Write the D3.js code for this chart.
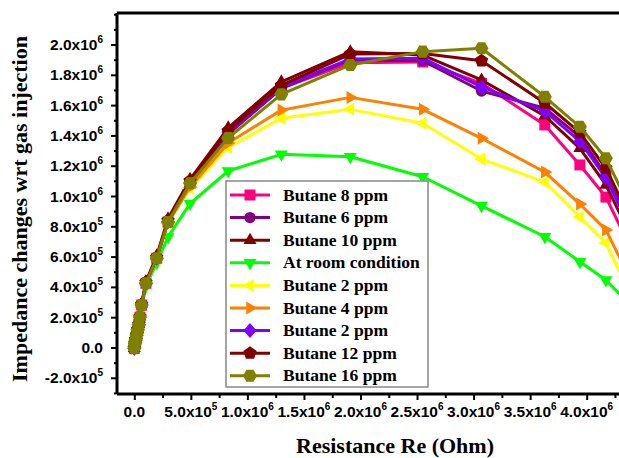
<!DOCTYPE html>
<html>
<head>
<meta charset="utf-8">
<script src="https://cdn.jsdelivr.net/npm/d3@7"></script>
<style>
  body { margin: 0; background: #fff; }
  svg { display: block; }
</style>
</head>
<body>
<svg id="chart"></svg>
<script>
// resistance values shared by all curves (Ohm)
const resistance = [0, 5e3, 1.2e4, 2e4, 3e4, 4e4, 5e4, 6.5e4, 1.03e5, 1.98e5, 2.98e5, 4.93e5,
                    8.3e5, 1.3e6, 1.91e6, 2.55e6, 3.07e6, 3.63e6, 3.94e6, 4.17e6, 4.4e6];

const butane8  = [-5e3, 2.5e4, 5e4, 8e4, 1.15e5, 1.5e5, 2.0e5, 2.8e5, 4.24e5, 5.89e5, 8.28e5, 1.084e6,
                  1.41e6, 1.71e6, 1.88e6, 1.885e6, 1.744e6, 1.469e6, 1.205e6, 9.93e5, 6.4e5];
const butane6  = [-5e3, 2.5e4, 5e4, 8e4, 1.15e5, 1.5e5, 2.0e5, 2.8e5, 4.24e5, 5.89e5, 8.28e5, 1.084e6,
                  1.41e6, 1.71e6, 1.90e6, 1.893e6, 1.693e6, 1.58e6, 1.39e6, 1.14e6, 7.9e5];
const butane10 = [-5e3, 2.6e4, 5.2e4, 8.3e4, 1.19e5, 1.55e5, 2.05e5, 2.88e5, 4.35e5, 6.05e5, 8.5e5, 1.11e6,
                  1.45e6, 1.754e6, 1.953e6, 1.93e6, 1.766e6, 1.528e6, 1.315e6, 1.073e6, 7.2e5];
const roomCond = [-5e3, 2.4e4, 4.8e4, 7.6e4, 1.1e5, 1.45e5, 1.9e5, 2.7e5, 4.05e5, 5.6e5, 7.3e5, 9.5e5,
                  1.165e6, 1.275e6, 1.259e6, 1.127e6, 9.35e5, 7.31e5, 5.66e5, 4.46e5, 2.7e5];
const butane2a = [-5e3, 2.5e4, 5e4, 8e4, 1.15e5, 1.5e5, 2.0e5, 2.8e5, 4.2e5, 5.85e5, 8.2e5, 1.05e6,
                  1.32e6, 1.513e6, 1.572e6, 1.48e6, 1.244e6, 1.092e6, 8.61e5, 6.9e5, 3.3e5];
const butane4  = [-5e3, 2.5e4, 5e4, 8e4, 1.15e5, 1.5e5, 2.0e5, 2.8e5, 4.22e5, 5.87e5, 8.24e5, 1.06e6,
                  1.35e6, 1.567e6, 1.651e6, 1.572e6, 1.381e6, 1.158e6, 9.47e5, 7.76e5, 4.3e5];
const butane2b = [-5e3, 2.5e4, 5e4, 8e4, 1.15e5, 1.5e5, 2.0e5, 2.8e5, 4.24e5, 5.9e5, 8.3e5, 1.09e6,
                  1.42e6, 1.72e6, 1.905e6, 1.91e6, 1.72e6, 1.56e6, 1.36e6, 1.12e6, 7.6e5];
const butane12 = [-5e3, 2.5e4, 5.1e4, 8.1e4, 1.17e5, 1.52e5, 2.02e5, 2.84e5, 4.3e5, 5.95e5, 8.38e5, 1.1e6,
                  1.43e6, 1.73e6, 1.937e6, 1.94e6, 1.893e6, 1.614e6, 1.418e6, 1.183e6, 8.3e5];
const butane16 = [-5e3, 2.5e4, 5e4, 8e4, 1.15e5, 1.5e5, 2.0e5, 2.8e5, 4.24e5, 5.89e5, 8.28e5, 1.084e6,
                  1.383e6, 1.671e6, 1.865e6, 1.953e6, 1.975e6, 1.655e6, 1.457e6, 1.249e6, 9.0e5];

const seriesNames  = ["Butane 8 ppm", "Butane 6 ppm", "Butane 10 ppm", "At room condition", "Butane 2 ppm",
                      "Butane 4 ppm", "Butane 2 ppm", "Butane 12 ppm", "Butane 16 ppm"];
const seriesValues = [butane8, butane6, butane10, roomCond, butane2a, butane4, butane2b, butane12, butane16];
const seriesColors = ["#ff0080", "#800080", "#800000", "#00ff00", "#ffff00", "#ff8000", "#8000ff", "#800000", "#808000"];
const seriesShapes = ["square", "circle", "up", "down", "left", "right", "diamond", "pentagon", "hexagon"];

const xTicks = [0, 5e5, 1e6, 1.5e6, 2e6, 2.5e6, 3e6, 3.5e6, 4e6];
const yTicks = [-2e5, 0, 2e5, 4e5, 6e5, 8e5, 1e6, 1.2e6, 1.4e6, 1.6e6, 1.8e6, 2e6];

let svgWidth = 619, svgHeight = 458;
let svg = d3.select('#chart').attr("width", svgWidth).attr("height", svgHeight);

let x = d3.scaleLinear().domain([-1.53e5, 4.33e6]).range([117, 624]);
let y = d3.scaleLinear().domain([-3.07e5, 2.208e6]).range([394, 13]);

function polygon(n, r, rot) {
    let pts = [];
    for (let i = 0; i < n; i++) {
        let a = rot + i * 2 * Math.PI / n;
        pts.push([r * Math.cos(a), r * Math.sin(a)]);
    }
    return "M" + pts.map(p => p[0].toFixed(2) + "," + p[1].toFixed(2)).join("L") + "Z";
}

function markerPath(shape) {
    switch (shape) {
        case "square": return "M-5.5,-5.5L5.5,-5.5L5.5,5.5L-5.5,5.5Z";
        case "circle": return d3.symbol(d3.symbolCircle, 100)();
        case "up": return polygon(3, 7.5, -Math.PI / 2);
        case "down": return polygon(3, 7.5, Math.PI / 2);
        case "left": return polygon(3, 7.5, Math.PI);
        case "right": return polygon(3, 7.5, 0);
        case "diamond": return "M0,-7.5L6.5,0L0,7.5L-6.5,0Z";
        case "pentagon": return polygon(5, 7, -Math.PI / 2);
        case "hexagon": return polygon(6, 7, 0);
    }
}

svg.append("clipPath").attr("id", "plotclip")
    .append("rect").attr("x", 117).attr("y", 13).attr("width", 510).attr("height", 381);

let plot = svg.append("g").attr("clip-path", "url(#plotclip)");

let line = d3.line()
    .x(function (d) { return x(d[0]); })
    .y(function (d) { return y(d[1]); });

seriesValues.forEach(function (vals, i) {
    let pts = resistance.map(function (r, j) { return [r, vals[j]]; });
    plot.append("path")
        .datum(pts)
        .attr("fill", "none")
        .attr("stroke", seriesColors[i])
        .attr("stroke-width", 3)
        .attr("stroke-linejoin", "round")
        .attr("d", line);
    plot.selectAll(null)
        .data(pts)
        .enter().append("path")
        .attr("transform", function (d) { return "translate(" + x(d[0]) + "," + y(d[1]) + ")"; })
        .attr("d", markerPath(seriesShapes[i]))
        .attr("fill", seriesColors[i]);
});

// frame
svg.append("line").attr("x1", 117).attr("x2", 619).attr("y1", 13).attr("y2", 13)
    .attr("stroke", "#000").attr("stroke-width", 3);

function sciLabel(sel, v) {
    if (v === 0) { sel.text("0.0"); return; }
    let e = Math.floor(Math.log10(Math.abs(v)));
    let m = v / Math.pow(10, e);
    sel.append("tspan").text(m.toFixed(1) + "x10");
    sel.append("tspan").attr("dy", -7).attr("font-size", 10).text(e);
}

// y axis
let yAxis = svg.append("g")
    .attr("transform", "translate(117,0)")
    .call(d3.axisLeft(y).tickValues(d3.range(-3e5, 2.2e6 + 1, 1e5)).tickSize(3).tickFormat(""));
yAxis.select(".domain").attr("stroke-width", 3).attr("d", "M0,13V394");
yAxis.selectAll(".tick line").attr("stroke-width", 2);
yAxis.selectAll(".tick").filter(function (d) { return yTicks.indexOf(d) >= 0; })
    .select("line").attr("x2", -6);
yTicks.forEach(function (v) {
    let t = svg.append("text")
        .attr("x", 103).attr("y", y(v) + 5.5)
        .attr("text-anchor", "end")
        .attr("font-family", "Liberation Sans, Arial, sans-serif")
        .attr("font-weight", "bold")
        .attr("font-size", 15.5);
    sciLabel(t, v);
});

// x axis
let xAxis = svg.append("g")
    .attr("transform", "translate(0,394)")
    .call(d3.axisBottom(x).tickValues(d3.range(0, 4.3e6, 2.5e5)).tickSize(4).tickFormat(""));
xAxis.select(".domain").attr("stroke-width", 3).attr("d", "M117,0H619");
xAxis.selectAll(".tick line").attr("stroke-width", 2);
xAxis.selectAll(".tick").filter(function (d) { return xTicks.indexOf(d) >= 0; })
    .select("line").attr("y2", 6);
xTicks.forEach(function (v) {
    let t = svg.append("text")
        .attr("x", x(v)).attr("y", 417)
        .attr("text-anchor", "middle")
        .attr("font-family", "Liberation Sans, Arial, sans-serif")
        .attr("font-weight", "bold")
        .attr("font-size", 15.5);
    sciLabel(t, v);
});

// axis titles
svg.append("text")
    .attr("x", 395).attr("y", 453)
    .attr("text-anchor", "middle")
    .attr("font-family", "Liberation Serif, Times New Roman, serif")
    .attr("font-weight", "bold")
    .attr("font-size", 22)
    .text("Resistance Re (Ohm)");

svg.append("text")
    .attr("transform", "translate(27,209) rotate(-90)")
    .attr("text-anchor", "middle")
    .attr("font-family", "Liberation Serif, Times New Roman, serif")
    .attr("font-weight", "bold")
    .attr("font-size", 22)
    .text("Impedance changes wrt gas injection");

// legend
let legend = svg.append("g");
legend.append("rect")
    .attr("x", 226).attr("y", 181).attr("width", 202).attr("height", 206)
    .attr("fill", "#fff").attr("stroke", "#888").attr("stroke-width", 1.5);
seriesNames.forEach(function (name, i) {
    let ly = 195 + i * 22.6;
    legend.append("line").attr("x1", 230).attr("x2", 270).attr("y1", ly).attr("y2", ly)
        .attr("stroke", seriesColors[i]).attr("stroke-width", 3);
    legend.append("path").attr("transform", "translate(250," + ly + ")")
        .attr("d", markerPath(seriesShapes[i])).attr("fill", seriesColors[i]);
    legend.append("text")
        .attr("x", 283).attr("y", ly + 5.5)
        .attr("font-family", "Liberation Serif, Times New Roman, serif")
        .attr("font-weight", "bold")
        .attr("font-size", 17.5)
        .text(name);
});
</script>
</body>
</html>
